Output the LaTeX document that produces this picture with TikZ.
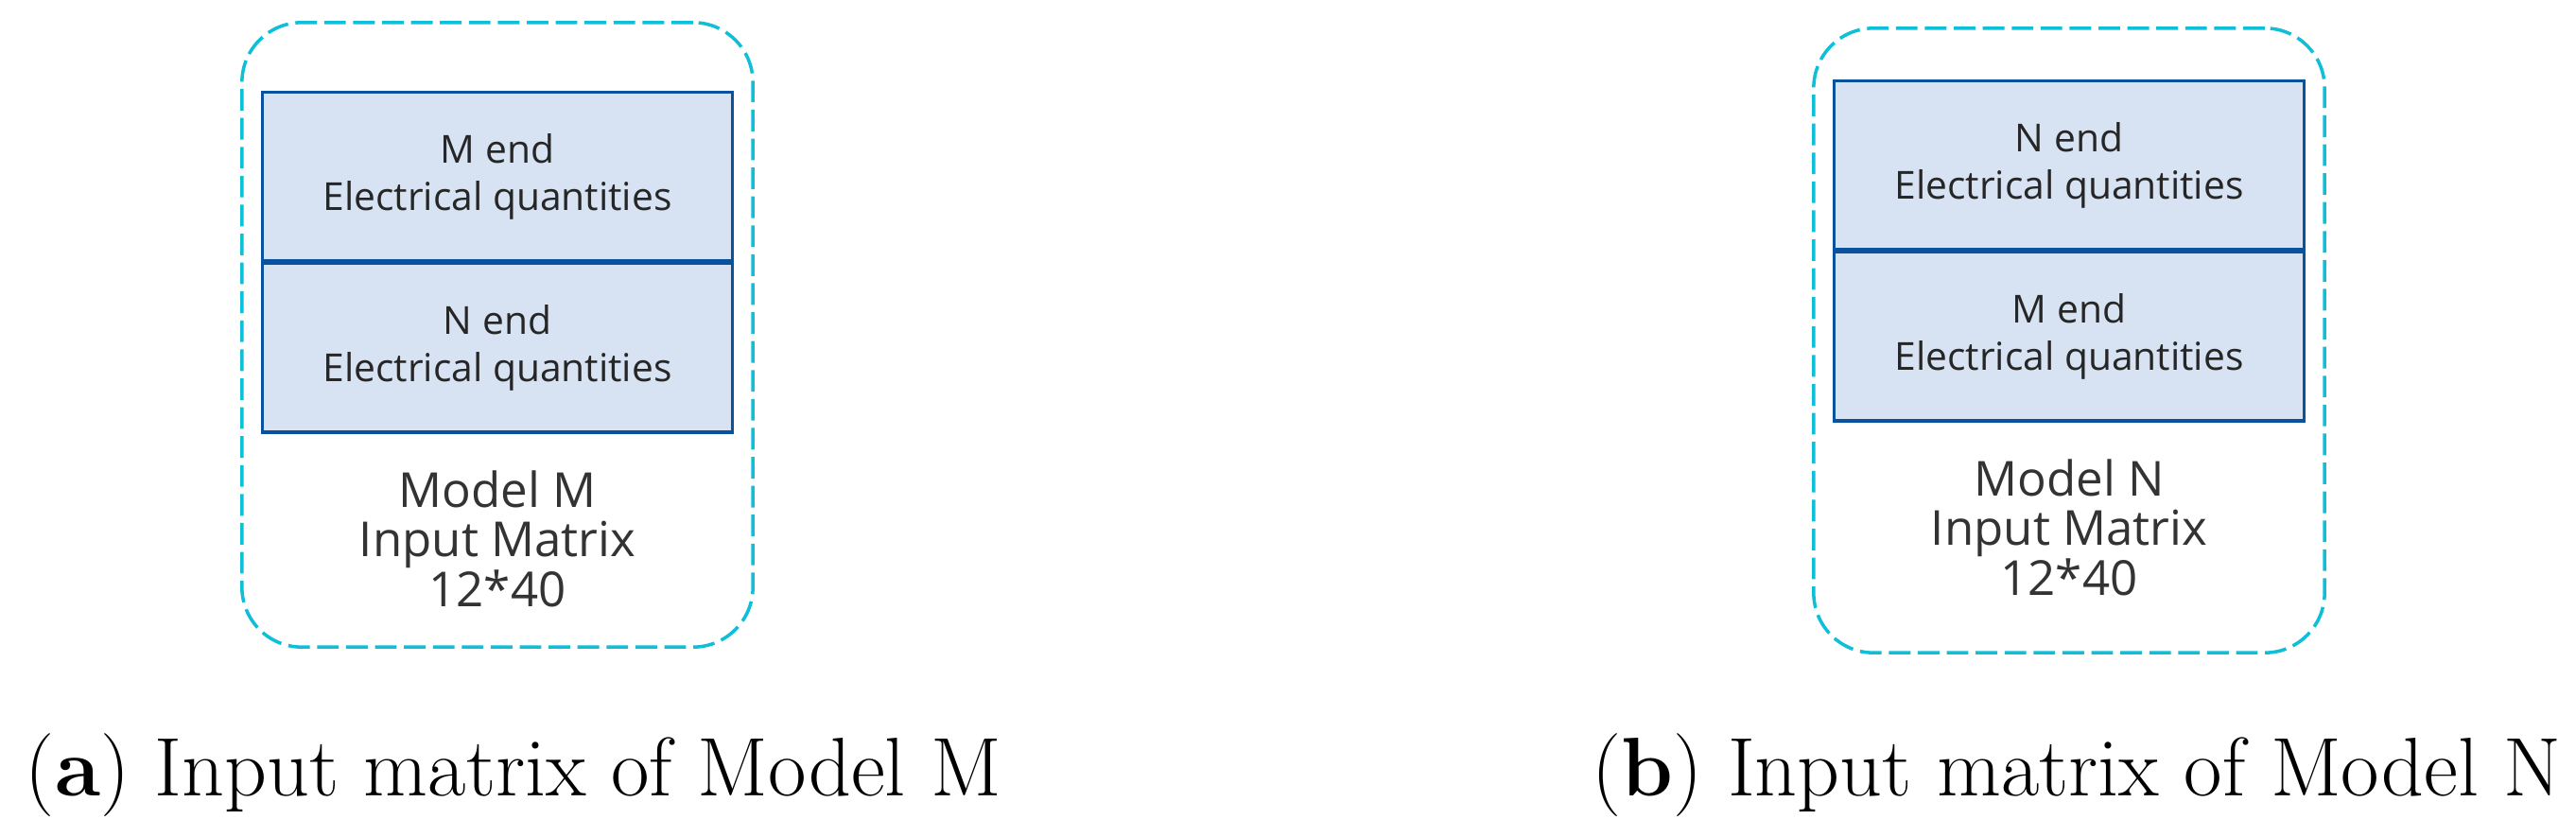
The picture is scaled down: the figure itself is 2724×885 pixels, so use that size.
\documentclass[tikz,border=0pt]{standalone}
\usepackage{fontspec}
\usepackage{tikz}
\usetikzlibrary{shapes,arrows.meta,positioning,backgrounds}
\newfontfamily\boxfont{Open Sans}

\definecolor{frameCyan}{RGB}{15,190,215}
\definecolor{cellFill}{RGB}{215,227,242}
\definecolor{cellLine}{RGB}{8,82,158}

\tikzset{
  frame/.style={draw=frameCyan, line width=1pt, dash pattern=on 6.5pt off 2.2pt,
    rounded corners=18pt, minimum width=5.4cm, minimum height=6.6cm, inner sep=0pt},
  cell/.style={draw=cellLine, fill=cellFill, line width=0.9pt, minimum width=4.97cm,
    minimum height=1.78cm, align=center, inner sep=0pt,
    font=\boxfont\fontsize{11.6}{14.2}\selectfont, text=black!85},
  model/.style={align=center, inner sep=0pt,
    font=\boxfont\fontsize{14.5}{15}\selectfont, text=black!80},
  caption/.style={anchor=base, inner sep=0pt, font=\fontsize{25}{30}\selectfont}
}

\begin{document}
\begin{tikzpicture}[x=0.01cm, y=-0.01cm]
\useasboundingbox (0,0) rectangle (2724,885);

% Panel (a)
\node[frame] (frameM) at (526,354) {};
\node[cell, anchor=north] (topM) at (526,96) {M end\\Electrical quantities};
\node[cell, below=0pt of topM] (botM) {N end\\Electrical quantities};
\node[model, below=0.38cm of botM.south, anchor=north] (modelM) {Model M\\Input Matrix\\12*40};

% Panel (b)
\node[frame] (frameN) at (2188,360) {};
\node[cell, anchor=north] (topN) at (2188,84) {N end\\Electrical quantities};
\node[cell, below=0pt of topN] (botN) {M end\\Electrical quantities};
\node[model, below=0.38cm of botN.south, anchor=north] (modelN) {Model N\\Input Matrix\\12*40};

% Captions
\node[caption] (capM) at (543,841) {(\textbf{a}) Input matrix of Model M};
\node[caption] (capN) at (2196,841) {(\textbf{b}) Input matrix of Model N};
\end{tikzpicture}
\end{document}
